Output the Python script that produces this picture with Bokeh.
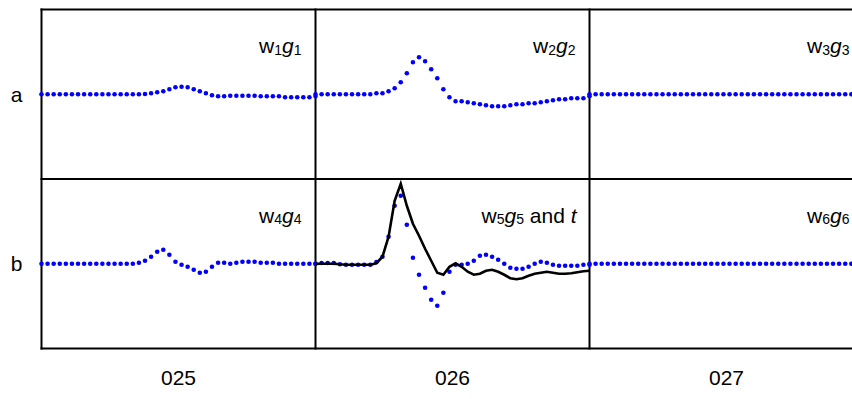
import numpy as np
from bokeh.plotting import figure
from bokeh.models import Range1d, FixedTicker, Label
from bokeh.embed import file_html
from bokeh.resources import INLINE

# ---------------- data ----------------
columns = ["025", "026", "027"]
rows = ["a", "b"]

# amplitude samples (46 per panel, first sample on the panel's left edge)
a_025 = [0] * 17 + [0.3, 1, 2, 3, 5, 7, 7.5, 7, 5, 3, 1, -1, -2, -2, -1.5, -1.5, -1.5,
                    -1.5, -1.5, -2, -2, -2, -2, -3, -3, -3, -3, -3, -2]
a_026 = [0] * 10 + [1, 1, 3, 6, 12, 21, 32, 37, 33, 25, 16, 5, -3, -7, -7, -8, -9, -10,
                    -11, -12, -12, -12, -11, -10, -10, -9, -9, -8, -7, -6, -5, -5, -4,
                    -4, -4, -2]
a_027 = [0] * 46
b_025 = [0] * 16 + [1, 3, 7, 12, 14, 9, 2, -1, -3, -6, -9, -8, -3, 1, 1, 0, 1, 2, 2, 2,
                    1, 1, 1, 0, 0, 0, 0, 0, 0, 0]
b_026 = [0, 0.7, 0.7, 0.7, -0.5, -1, -1, -1, -1, -1,
         1.7, 7, 27, 58, 68, 39, 6, -11, -24, -36,
         -42, -29, -8, -1, -1, 0, 3, 8, 9, 7,
         4, 0, -4, -5, -5, -3, 0, 2, 1, -1,
         -2, -2, -2, -2, -1, -1]
b_027 = [0] * 46
t_026 = [0, 0, 0, 0, -0.5, -1, -1, -1, -1, -1,
         0.5, 7, 27, 63, 80, 58, 40, 28, 15, 3,
         -9, -11, -3, 0.5, -3, -8, -11, -10, -7, -6,
         -8, -11, -14.5, -15.5, -14.5, -12, -10, -9, -8, -9,
         -10, -10, -9.5, -8.5, -7.5, -7]

series = {("a", "025"): a_025, ("a", "026"): a_026, ("a", "027"): a_027,
          ("b", "025"): b_025, ("b", "026"): b_026, ("b", "027"): b_027}

panel_labels = {("a", "025"): "1", ("a", "026"): "2", ("a", "027"): "3",
                ("b", "025"): "4", ("b", "026"): "5", ("b", "027"): "6"}

# ---------------- layout constants ----------------
W, H = 852, 399
PANEL_PX = 274.0
ROW_PX = 169.5
LEFT, TOP = 41, 9
PAD = 3
FONT = "Liberation Sans"

ncol, nrow = len(columns), len(rows)
x_start = -PAD / PANEL_PX
x_end = (W - LEFT) / PANEL_PX
y_start = -PAD / ROW_PX
y_end = nrow + PAD / ROW_PX
bottom_px = H - (TOP + nrow * ROW_PX + PAD)

p = figure(width=W, height=H, output_backend="svg", toolbar_location=None,
           x_range=Range1d(x_start, x_end), y_range=Range1d(y_start, y_end),
           min_border_left=LEFT - PAD, min_border_right=0,
           min_border_top=TOP - PAD, min_border_bottom=int(round(bottom_px)))
p.outline_line_color = None
p.xgrid.visible = False
p.ygrid.visible = False

# axes as category labels
for ax in (p.xaxis[0], p.yaxis[0]):
    ax.axis_line_color = None
    ax.major_tick_line_color = None
    ax.minor_tick_line_color = None
    ax.major_tick_out = 0
    ax.major_tick_in = 0
    ax.major_label_text_font = FONT
    ax.major_label_text_font_size = "21px"
    ax.major_label_text_color = "black"

xt = [c + 0.5 for c in range(ncol)]
p.xaxis.ticker = FixedTicker(ticks=xt)
p.xaxis.major_label_overrides = {t: lab for t, lab in zip(xt, columns)}
p.xaxis.major_label_standoff = 19

yt = [nrow - r - 0.5 for r in range(nrow)]
p.yaxis.ticker = FixedTicker(ticks=yt)
p.yaxis.major_label_overrides = {t: lab for t, lab in zip(yt, rows)}
p.yaxis.major_label_standoff = 16
p.yaxis.major_label_orientation = "horizontal"

# grid frame lines
hx0 = [0.0] * (nrow + 1); hx1 = [float(ncol)] * (nrow + 1); hy = list(range(nrow + 1))
vy0 = [0.0] * (ncol + 1); vy1 = [float(nrow)] * (ncol + 1); vx = list(range(ncol + 1))
p.segment(x0=hx0, y0=hy, x1=hx1, y1=hy, line_color="black", line_width=2, line_cap="square")
p.segment(x0=vx, y0=vy0, x1=vx, y1=vy1, line_color="black", line_width=2, line_cap="square")

# dotted series
for (rname, cname), vals in series.items():
    r = rows.index(rname)
    c = columns.index(cname)
    n = len(vals)
    xs = c + np.arange(n) / (n - 1)
    ys = (nrow - r - 0.5) + np.asarray(vals, dtype=float) / ROW_PX
    p.scatter(xs, ys, size=4.6, color="#0000ff", line_color=None)

# black trace in panel b / 026
c = columns.index("026"); r = rows.index("b")
n = len(t_026)
p.line(c + np.arange(n) / (n - 1), (nrow - r - 0.5) + np.asarray(t_026, dtype=float) / ROW_PX,
       line_color="black", line_width=2.6, line_join="miter")

# panel labels, composed right-to-left
MAIN, SUB = 21, 14
EM = {"w": 0.722, "g": 0.556, " ": 0.278, "a": 0.556, "n": 0.556, "d": 0.556, "t": 0.278}
for d in "0123456789":
    EM[d] = 0.556

def width(s, size):
    return sum(EM.get(ch, 0.556) for ch in s) * size

BASE = -36
for (rname, cname), k in panel_labels.items():
    r = rows.index(rname)
    c = columns.index(cname)
    pieces = [("w", "normal", MAIN, 0, 0), (k, "normal", SUB, -4, 0),
              ("g", "italic", MAIN, 0, 0), (k, "normal", SUB, -4, 0)]
    pad = 14
    if (rname, cname) == ("b", "026"):
        # (text, style, size, dy, gap after the piece in em of MAIN)
        pieces = [("w", "normal", MAIN, 0, 0), (k, "normal", SUB, -4, 0),
                  ("g", "italic", MAIN, 0, 0), (k, "normal", SUB, -4, 0.278),
                  ("and", "normal", MAIN, 0, 0.278), ("t", "italic", MAIN, 0, 0)]
        pad = 13
    acc = pad
    for txt, style, size, dy, gap in reversed(pieces):
        acc += gap * MAIN
        p.add_layout(Label(x=c + 1, y=nrow - r, x_units="data", y_units="data",
                           x_offset=-acc, y_offset=BASE + dy, text=txt,
                           text_font=FONT, text_font_style=style,
                           text_font_size=f"{size}px", text_align="right",
                           text_baseline="alphabetic", text_color="black"))
        acc += width(txt, size)

open("out.html", "w").write(file_html(p, INLINE))
